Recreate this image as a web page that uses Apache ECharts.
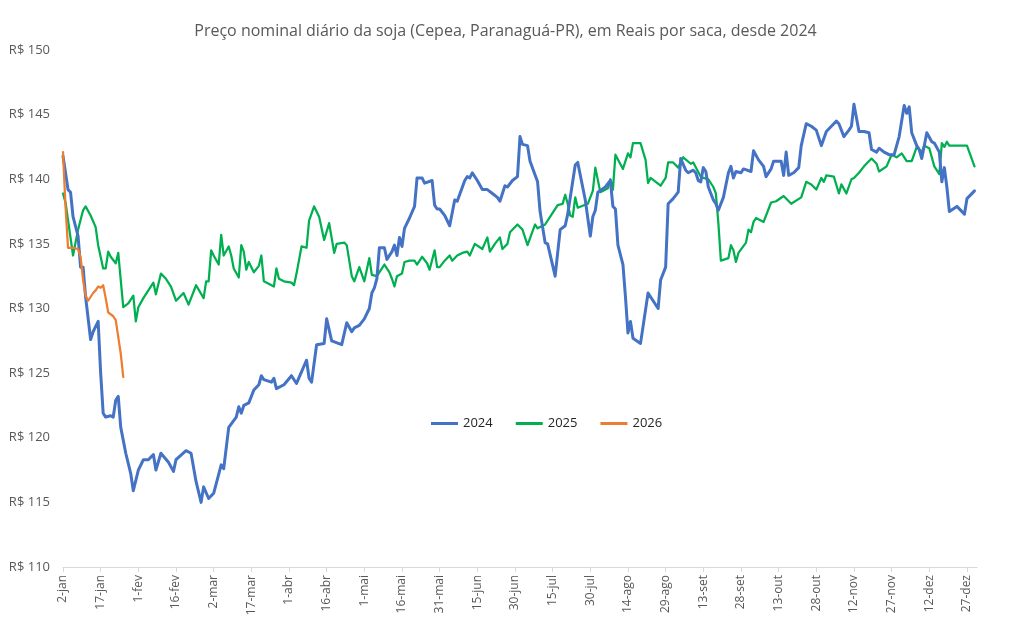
<!DOCTYPE html>
<html>
<head>
<meta charset="utf-8">
<script src="https://cdn.jsdelivr.net/npm/echarts@6/dist/echarts.min.js"></script>
<style>html,body{margin:0;padding:0;background:#fff;}#c{width:1011px;height:629px;}</style>
</head>
<body>
<div id="c"></div>
<script>
// Day offset from 2 January of each year, and price in R$/saca
const tickLabels = ['2-jan','17-jan','1-fev','16-fev','2-mar','17-mar','1-abr','16-abr','1-mai','16-mai','31-mai','15-jun','30-jun','15-jul','30-jul','14-ago','29-ago','13-set','28-set','13-out','28-out','12-nov','27-nov','12-dez','27-dez'];
const tickDays = [0,15,30,45,60,75,90,105,120,135,150,165,180,195,210,225,240,255,270,285,300,315,330,345,360];

const days2024 = [0,2,3,4,6,7,8,9,11,12,14,15,16,17,19,20,21,22,23,25,27,28,30,32,34,36,37,39,42,44,45,49,51,53,55,56,58,60,63,64,66,69,70,71,72,74,76,78,79,80,83,84,85,88,91,93,97,98,99,101,104,105,107,111,113,115,116,118,120,122,123,124,125,126,128,129,131,132,133,134,135,136,138,140,141,143,144,147,148,149,150,152,154,156,157,160,161,162,163,165,167,169,171,173,174,176,177,179,181,182,183,185,186,189,190,192,193,196,198,200,201,204,205,208,210,211,212,213,216,218,219,220,221,223,224,225,226,227,230,233,235,237,238,240,241,243,245,246,248,249,251,252,253,254,255,256,257,259,260,261,263,265,266,267,268,270,271,274,275,277,279,280,282,283,286,287,288,289,291,293,294,296,298,300,302,304,306,308,309,311,313,314,315,317,319,321,322,324,325,327,329,331,333,335,336,337,338,340,341,342,344,346,347,349,350,351,352,353,356,359,360,363];
const price2024 = [141.8,139.2,139.0,137.1,135.6,133.2,133.2,130.9,127.6,128.2,129.0,125.0,121.9,121.6,121.7,121.6,122.9,123.2,120.8,118.8,117.2,115.9,117.5,118.3,118.3,118.7,117.5,118.8,118.1,117.4,118.3,119.0,118.8,116.6,115.0,116.2,115.3,115.7,117.9,117.6,120.8,121.6,122.4,121.9,122.5,122.7,123.7,124.1,124.8,124.5,124.3,124.6,123.8,124.1,124.8,124.2,126.0,124.6,124.3,127.2,127.3,129.2,127.5,127.2,128.9,128.2,128.5,128.7,129.2,130.0,131.2,131.6,132.3,134.7,134.7,133.8,134.4,134.9,134.1,135.5,134.8,136.2,137.0,137.9,140.1,140.1,139.7,139.9,138.0,137.7,137.7,137.2,136.4,138.4,138.3,139.9,140.2,140.1,140.5,139.9,139.2,139.2,138.9,138.6,138.3,139.5,139.4,139.9,140.2,143.3,142.7,142.6,141.4,139.8,137.5,135.1,135.0,132.5,136.1,136.4,137.3,141.1,141.3,138.4,135.6,137.1,137.6,139.0,139.4,139.9,137.9,137.7,134.9,133.4,130.9,128.1,129.0,127.7,127.3,131.2,130.6,130.0,132.2,133.2,138.1,138.5,139.0,141.6,140.7,140.5,140.7,140.5,139.9,139.8,140.9,140.6,139.4,138.4,138.1,137.6,138.6,140.5,141.0,140.1,140.6,140.5,140.8,140.6,142.2,141.5,141.0,140.2,140.8,141.4,141.4,140.3,142.1,140.3,140.5,140.9,142.6,144.3,144.1,143.8,142.6,143.7,144.1,144.5,144.3,143.3,143.8,144.1,145.8,143.7,143.7,143.6,142.3,142.1,142.4,142.1,141.9,141.9,143.3,145.7,145.1,145.6,143.6,142.6,142.3,141.6,143.6,142.9,142.8,142.1,139.8,140.9,139.4,137.5,137.9,137.3,138.5,139.1];

const days2025 = [0,1,4,6,8,9,11,13,14,16,17,18,19,21,22,23,24,26,28,29,30,32,34,36,37,39,41,43,45,48,50,53,56,57,58,59,60,62,63,64,66,67,68,70,71,72,73,74,76,78,79,80,84,85,86,88,91,92,93,95,97,98,100,102,104,106,108,109,112,113,115,116,118,120,122,123,125,128,130,131,132,133,135,136,138,140,141,143,145,146,148,149,150,152,154,155,157,159,161,162,164,167,169,170,172,174,175,177,178,181,183,185,188,189,192,195,197,199,200,201,202,203,204,205,209,210,211,212,214,217,218,219,220,223,225,226,227,230,232,233,234,238,240,241,243,245,247,250,251,254,255,257,259,260,261,262,265,266,267,268,269,272,273,274,275,276,279,282,284,287,290,294,296,298,300,302,303,304,307,309,310,312,314,315,317,319,322,324,325,328,330,332,334,336,338,340,342,343,345,347,349,350,351,352,353,360,363];
const price2025 = [138.9,138.2,134.1,136.1,137.6,137.9,137.2,136.3,134.9,133.1,133.1,134.4,134.0,133.5,134.3,132.2,130.1,130.4,131.0,129.0,130.1,130.8,131.4,132.0,131.1,132.7,132.3,131.7,130.6,131.2,130.3,131.8,130.8,132.1,132.1,134.5,134.1,133.4,135.7,134.1,134.8,134.1,133.1,132.4,134.9,134.4,133.0,133.6,132.8,133.3,134.1,132.1,131.7,133.1,132.3,132.1,132.0,131.8,132.7,134.8,134.7,136.8,137.9,137.1,135.3,136.6,134.3,135.0,135.1,134.9,132.5,132.1,133.2,132.1,133.9,132.6,132.5,133.4,132.8,132.3,131.7,132.5,132.7,133.6,133.7,133.7,133.4,134.0,133.5,133.0,134.5,133.2,133.2,133.7,134.1,133.7,134.1,134.3,134.4,134.1,135.0,134.6,135.5,134.4,135.0,135.5,134.6,135.0,135.9,136.5,136.1,134.9,136.5,136.2,136.5,137.4,138.0,138.1,138.8,138.1,137.2,137.1,138.6,137.8,138.1,138.6,139.1,140.9,139.0,139.3,140.0,139.2,141.9,140.8,142.0,141.7,142.8,142.8,141.5,139.7,140.1,139.5,140.1,141.3,141.3,140.9,141.7,141.2,141.3,140.2,140.1,140.0,139.4,138.9,136.6,133.7,133.9,134.9,134.5,133.6,134.3,135.1,136.1,135.9,136.7,137.0,136.7,138.2,138.3,138.7,138.1,138.6,139.8,139.6,139.2,140.1,139.8,140.3,140.2,138.9,139.6,138.9,140.0,140.1,140.5,141.0,141.6,141.2,140.6,141.0,141.9,141.7,142.0,141.4,141.4,142.5,142.1,142.6,142.4,141.0,140.4,142.8,142.5,142.9,142.6,142.6,141.0];

const days2026 = [0,1,2,4,6,7,8,9,10,12,13,14,15,16,17,18,20,21,22,23,24];
const price2026 = [142.1,137.9,134.7,134.7,134.6,134.0,132.2,131.0,130.6,131.2,131.4,131.7,131.6,131.8,130.8,129.7,129.4,129.1,127.8,126.5,124.7];

const yMin = 110, yMax = 150, yStep = 5;

function pairs(d, v) { return d.map((x, i) => [x, v[i]]); }

const chart = echarts.init(document.getElementById('c'), null, {renderer: 'canvas'});
const FONT = '"Open Sans", "Noto Sans", sans-serif';
const lineSeries = (name, d, v, color, width) => ({
  name: name, type: 'line', data: pairs(d, v), showSymbol: false, symbol: 'none',
  lineStyle: {color: color, width: width, join: 'round', cap: 'round'}, itemStyle: {color: color},
  animation: false, z: name === '2026' ? 5 : (name === '2024' ? 4 : 3)
});

chart.setOption({
  backgroundColor: '#ffffff',
  textStyle: {fontFamily: FONT},
  title: {
    text: 'Preço nominal diário da soja (Cepea, Paranaguá-PR), em Reais por saca, desde 2024',
    left: 'center', top: 18,
    textStyle: {fontFamily: FONT, fontSize: 16, fontWeight: 'normal', color: '#595959'}
  },
  legend: {
    data: ['2024', '2025', '2026'],
    left: 426, top: 412, icon: 'rect', itemWidth: 27, itemHeight: 3, itemGap: 23,
    textStyle: {fontFamily: FONT, fontSize: 13, color: '#262626'}
  },
  grid: {left: 63, right: 34, top: 50, bottom: 62, containLabel: false},
  xAxis: {
    type: 'value', min: 0, max: 364,
    splitLine: {show: false},
    axisLine: {show: true, lineStyle: {color: '#D9D9D9', width: 1}},
    axisTick: {show: true, customValues: tickDays, length: 5, lineStyle: {color: '#D9D9D9'}},
    axisLabel: {
      customValues: tickDays, rotate: 90, margin: 8, fontSize: 12, color: '#595959', fontFamily: FONT,
      formatter: function (v) { const i = tickDays.indexOf(v); return i >= 0 ? tickLabels[i] : ''; }
    }
  },
  yAxis: {
    type: 'value', min: yMin, max: yMax, interval: yStep,
    splitLine: {show: false},
    axisLine: {show: false}, axisTick: {show: false},
    axisLabel: {margin: 13, fontSize: 13, color: '#595959', fontFamily: FONT, formatter: v => 'R$ ' + v}
  },
  series: [
    lineSeries('2024', days2024, price2024, '#4472C4', 3),
    lineSeries('2025', days2025, price2025, '#00B050', 2.25),
    lineSeries('2026', days2026, price2026, '#ED7D31', 2.25)
  ]
});
</script>
</body>
</html>
